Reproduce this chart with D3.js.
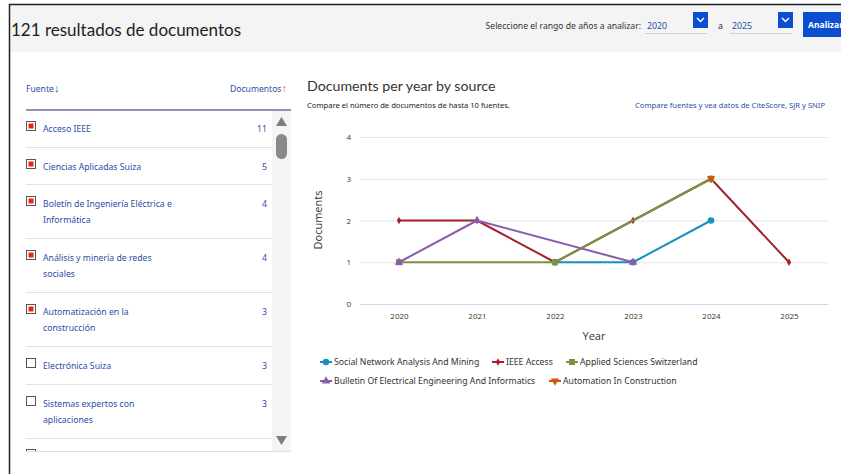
<!DOCTYPE html>
<html>
<head>
<meta charset="utf-8">
<script src="https://cdn.jsdelivr.net/npm/d3@7"></script>
<style>
  html, body { margin: 0; padding: 0; background: #fff; overflow: hidden; }
  svg { display: block; font-family: "Noto Sans", "Open Sans", sans-serif; }
</style>
</head>
<body>
<svg id="page" width="841" height="474"></svg>
<script>
// ---------- DATA ----------
const years = ["2020", "2021", "2022", "2023", "2024", "2025"];
const seriesNames = [
  "Social Network Analysis And Mining",
  "IEEE Access",
  "Applied Sciences Switzerland",
  "Bulletin Of Electrical Engineering And Informatics",
  "Automation In Construction"
];
const socialNetwork = [null, null, 1, 1, 2, null];
const ieeeAccess    = [2, 2, 1, 2, 3, 1];
const appliedSci    = [1, null, 1, null, 3, null];
const bulletin      = [1, 2, null, 1, null, null];
const automation    = [null, null, null, null, 3, null];
const seriesValues = [socialNetwork, ieeeAccess, appliedSci, bulletin, automation];
const seriesColors = ["#1790c3", "#a3212b", "#7b9442", "#8c5bab", "#d0550e"];
const seriesSymbols = ["circle", "diamond", "square", "triangle", "triangle-down"];
const yTicks = [0, 1, 2, 3, 4];

const sourceNames = [
  ["Acceso IEEE"],
  ["Ciencias Aplicadas Suiza"],
  ["Boletín de Ingeniería Eléctrica e", "Informática"],
  ["Análisis y minería de redes", "sociales"],
  ["Automatización en la", "construcción"],
  ["Electrónica Suiza"],
  ["Sistemas expertos con", "aplicaciones"]
];
const sourceCounts = [11, 5, 4, 4, 3, 3, 3];
const sourceChecked = [true, true, true, true, true, false, false];

// ---------- PAGE ----------
const svg = d3.select("#page");
const linkBlue = "#2b4ea6";
const titleFont = "Lato, 'Noto Sans', sans-serif";

// header band
svg.append("rect").attr("x", 9).attr("y", 4).attr("width", 832).attr("height", 48).attr("fill", "#f4f4f4");
svg.append("line").attr("x1", 9).attr("x2", 841).attr("y1", 4.5).attr("y2", 4.5).attr("stroke", "#222").attr("stroke-width", 1.5);
svg.append("line").attr("x1", 9.5).attr("x2", 9.5).attr("y1", 4).attr("y2", 474).attr("stroke", "#222").attr("stroke-width", 1.5);

svg.append("text").attr("x", 11).attr("y", 36).attr("font-size", 17).attr("fill", "#222")
  .attr("font-family", titleFont).text("121 resultados de documentos");

svg.append("text").attr("x", 641).attr("y", 29).attr("font-size", 8.6).attr("fill", "#333").attr("text-anchor", "end")
  .text("Seleccione el rango de años a analizar:");

function yearSelect(x, label) {
  svg.append("text").attr("x", x + 2).attr("y", 29).attr("font-size", 8.8).attr("fill", linkBlue).text(label);
  svg.append("line").attr("x1", x).attr("x2", x + 62).attr("y1", 33.5).attr("y2", 33.5).attr("stroke", "#cfcfcf");
  svg.append("rect").attr("x", x + 48).attr("y", 12).attr("width", 15).attr("height", 16).attr("fill", "#0b4fd0");
  svg.append("path").attr("d", `M${x + 52},${18} L${x + 55.5},${21.5} L${x + 59},${18}`)
    .attr("fill", "none").attr("stroke", "#fff").attr("stroke-width", 1.5);
}
yearSelect(645, "2020");
svg.append("text").attr("x", 718).attr("y", 29).attr("font-size", 8.8).attr("fill", "#333").text("a");
yearSelect(730, "2025");
svg.append("rect").attr("x", 803).attr("y", 12).attr("width", 45).attr("height", 25).attr("fill", "#0b4fd0");
svg.append("text").attr("x", 808).attr("y", 28).attr("font-size", 8.6).attr("font-weight", "bold").attr("fill", "#fff").text("Analizar");

// ---------- LEFT PANEL ----------
const fuente = svg.append("text").attr("x", 26).attr("y", 92).attr("font-size", 8.6).attr("fill", linkBlue);
fuente.append("tspan").text("Fuente");
fuente.append("tspan").attr("font-size", 11).text("↓");
const docHead = svg.append("text").attr("x", 287).attr("y", 92).attr("font-size", 8.6).attr("text-anchor", "end").attr("fill", linkBlue);
docHead.append("tspan").text("Documentos");
docHead.append("tspan").attr("fill", "#e06a1a").attr("font-size", 11).text("↑");
svg.append("line").attr("x1", 26).attr("x2", 291).attr("y1", 110).attr("y2", 110).attr("stroke", "#1f2a66").attr("stroke-width", 1.2);

// scrollbar
svg.append("rect").attr("x", 272).attr("y", 111).attr("width", 19).attr("height", 340).attr("fill", "#f4f4f4");
svg.append("path").attr("d", "M276,126 L281.5,117 L287,126 Z").attr("fill", "#7d7d7d");
svg.append("rect").attr("x", 276).attr("y", 134).attr("width", 11).attr("height", 25).attr("rx", 5.5).attr("fill", "#8a8a8a");
svg.append("path").attr("d", "M276,436 L281.5,445 L287,436 Z").attr("fill", "#7d7d7d");

const rowTops = [117, 155, 192, 246, 300, 354, 392, 446];
sourceNames.forEach((lines, i) => {
  const top = rowTops[i];
  const g = svg.append("g");
  g.append("rect").attr("x", 26.5).attr("y", top + 4.5).attr("width", 9).attr("height", 9)
    .attr("fill", "#fff").attr("stroke", "#555").attr("stroke-width", 1);
  if (sourceChecked[i]) {
    g.append("rect").attr("x", 28.5).attr("y", top + 6.5).attr("width", 5).attr("height", 5).attr("fill", "#e8260c");
  }
  lines.forEach((t, j) => {
    g.append("text").attr("x", 43).attr("y", top + 15 + j * 16).attr("font-size", 8.7).attr("fill", linkBlue).text(t);
  });
  g.append("text").attr("x", 267).attr("y", top + 15).attr("font-size", 8.7).attr("text-anchor", "end")
    .attr("fill", linkBlue).text(sourceCounts[i]);
  const sepY = rowTops[i + 1] - 8;
  svg.append("line").attr("x1", 26).attr("x2", 272).attr("y1", sepY + 0.5).attr("y2", sepY + 0.5)
    .attr("stroke", "#e2e2e2").attr("stroke-width", 1);
});
// partially visible next row
svg.append("rect").attr("x", 26.5).attr("y", 449.5).attr("width", 9).attr("height", 3).attr("fill", "none").attr("stroke", "#555");
svg.append("rect").attr("x", 20).attr("y", 451).attr("width", 275).attr("height", 23).attr("fill", "#fff");
svg.append("line").attr("x1", 26).attr("x2", 291).attr("y1", 451.5).attr("y2", 451.5).attr("stroke", "#dedede");

// ---------- CHART ----------
svg.append("text").attr("x", 307).attr("y", 91).attr("font-size", 14.2).attr("fill", "#333")
  .attr("font-family", titleFont).text("Documents per year by source");
svg.append("text").attr("x", 307).attr("y", 108).attr("font-size", 7.6).attr("fill", "#222")
  .text("Compare el número de documentos de hasta 10 fuentes.");
svg.append("text").attr("x", 825).attr("y", 108).attr("font-size", 7.6).attr("fill", linkBlue).attr("text-anchor", "end")
  .text("Compare fuentes y vea datos de CiteScore, SJR y SNIP");

const x = d3.scalePoint().domain(years).range([360, 828]).padding(0.5);
const y = d3.scaleLinear().domain([0, 4]).range([304, 137]);

const chartFont = "'Open Sans', 'DejaVu Sans', sans-serif";

// y axis with gridlines
const yAxis = svg.append("g").attr("transform", "translate(360,0)")
  .call(d3.axisLeft(y).tickValues(yTicks).tickFormat(d3.format("d")).tickSize(-468).tickPadding(9));
yAxis.select(".domain").remove();
yAxis.selectAll(".tick line").attr("stroke", "#e6e6e6");
yAxis.selectAll(".tick text").attr("font-size", 8).attr("fill", "#333").attr("font-family", chartFont);

// x axis
const xAxis = svg.append("g").attr("transform", "translate(0,304)")
  .call(d3.axisBottom(x).tickSize(0).tickPadding(9).tickSizeOuter(0));
xAxis.select(".domain").attr("stroke", "#ccd6eb").attr("stroke-width", 1).attr("d", "M360,0.5H828");
xAxis.selectAll(".tick text").attr("font-size", 8).attr("fill", "#333").attr("font-family", chartFont);

svg.append("text").attr("x", 594).attr("y", 340).attr("text-anchor", "middle").attr("font-size", 11)
  .attr("fill", "#333").attr("font-family", chartFont).text("Year");
svg.append("text").attr("transform", "translate(322,220) rotate(-90)").attr("text-anchor", "middle")
  .attr("font-size", 11).attr("fill", "#333").attr("font-weight", 500).attr("font-family", chartFont).text("Documents");

const symbolMap = {
  "circle": d3.symbolCircle,
  "diamond": d3.symbolDiamond,
  "square": d3.symbolSquare,
  "triangle": d3.symbolTriangle,
  "triangle-down": d3.symbolTriangle
};
const symbolSize = { "circle": 34, "diamond": 16, "square": 36, "triangle": 30, "triangle-down": 30 };
function drawMarker(sel, sym, color, cx, cy) {
  const p = sel.append("path").attr("d", d3.symbol().type(symbolMap[sym]).size(symbolSize[sym])())
    .attr("fill", color);
  p.attr("transform", `translate(${cx},${cy})` + (sym === "triangle-down" ? " rotate(180)" : ""));
}

const pointsBySeries = seriesValues.map(vals =>
  years.map((yr, i) => ({ yr, v: vals[i] })).filter(d => d.v !== null));

const line = d3.line().x(d => x(d.yr)).y(d => y(d.v));
pointsBySeries.forEach((pts, si) => {
  const g = svg.append("g");
  if (pts.length > 1) {
    g.append("path").datum(pts).attr("d", line).attr("fill", "none")
      .attr("stroke", seriesColors[si]).attr("stroke-width", 2).attr("stroke-linejoin", "round");
  }
  pts.forEach(d => drawMarker(g, seriesSymbols[si], seriesColors[si], x(d.yr), y(d.v)));
});

// legend
const legendPos = [[320, 362], [492, 362], [566, 362], [320, 381], [549, 381]];
seriesNames.forEach((name, i) => {
  const [lx, ly] = legendPos[i];
  const g = svg.append("g");
  g.append("line").attr("x1", lx).attr("x2", lx + 12).attr("y1", ly).attr("y2", ly)
    .attr("stroke", seriesColors[i]).attr("stroke-width", 2);
  drawMarker(g, seriesSymbols[i], seriesColors[i], lx + 6, ly);
  g.append("text").attr("x", lx + 14).attr("y", ly + 3).attr("font-size", 8.7).attr("fill", "#333").text(name);
});
</script>
</body>
</html>
